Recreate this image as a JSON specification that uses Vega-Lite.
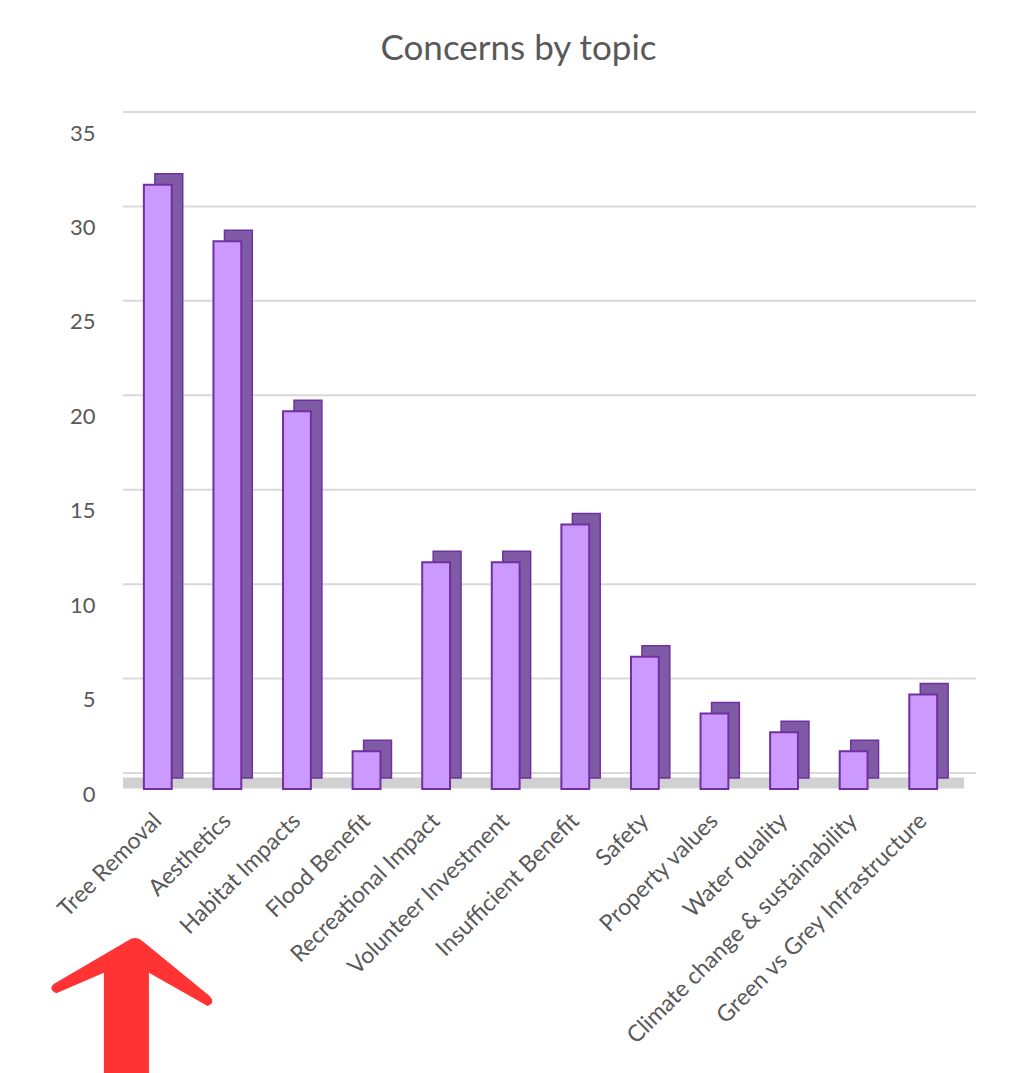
{
  "$schema": "https://vega.github.io/schema/vega-lite/v6.json",
  "width": 835,
  "height": 661,
  "autosize": {"type": "none"},
  "padding": {"left": 123, "top": 128, "right": 65, "bottom": 284},
  "background": "white",
  "title": {"text": "Concerns by topic", "font": "Lato", "fontSize": 35, "fontWeight": "normal", "color": "#595959", "anchor": "middle", "dx": -22, "offset": 44},
  "config": {
    "view": {"stroke": null},
    "axis": {"labelFont": "Lato", "labelColor": "#595959", "labelFontSize": 23, "domain": false, "ticks": false, "grid": false, "title": null}
  },
  "datasets": {
    "topics": [
      {"topic": "Tree Removal", "count": 32},
      {"topic": "Aesthetics", "count": 29},
      {"topic": "Habitat Impacts", "count": 20},
      {"topic": "Flood Benefit", "count": 2},
      {"topic": "Recreational Impact", "count": 12},
      {"topic": "Volunteer Investment", "count": 12},
      {"topic": "Insufficient Benefit", "count": 14},
      {"topic": "Safety", "count": 7},
      {"topic": "Property values", "count": 4},
      {"topic": "Water quality", "count": 3},
      {"topic": "Climate change & sustainability", "count": 2},
      {"topic": "Green vs Grey  Infrastructure", "count": 5}
    ],
    "grid": [{"v": 0}, {"v": 5}, {"v": 10}, {"v": 15}, {"v": 20}, {"v": 25}, {"v": 30}, {"v": 35}]
  },
  "layer": [
    {
      "data": {"name": "grid"},
      "mark": {"type": "rule", "color": "#d9d9d9", "strokeWidth": 2, "xOffset": 18, "yOffset": -16},
      "encoding": {
        "y": {"field": "v", "type": "quantitative", "scale": {"domain": [0, 35], "nice": false}, "axis": {"values": [0, 5, 10, 15, 20, 25, 30, 35], "labelPadding": 28, "labelOffset": 5, "labelFontSize": 22}}
      }
    },
    {
      "data": {"values": [{}]},
      "mark": {"type": "rule", "color": "#8c8c8c", "opacity": 0.4, "strokeWidth": 11, "yOffset": -6, "xOffset": 6},
      "encoding": {
        "y": {"datum": 0, "type": "quantitative"}
      }
    },
    {
      "data": {"name": "topics"},
      "mark": {"type": "bar", "fill": "#7F5BA6", "stroke": "#7030A0", "strokeWidth": 1.5, "xOffset": 11, "yOffset": -11},
      "encoding": {
        "x": {"field": "topic", "type": "nominal", "sort": null, "scale": {"paddingInner": 0.6, "paddingOuter": 0.3}, "axis": {"labelAngle": -45, "labelAlign": "right", "labelBaseline": "middle", "labelPadding": 28, "labelLimit": 0, "labelOverlap": false}},
        "y": {"field": "count", "type": "quantitative"}
      }
    },
    {
      "data": {"name": "topics"},
      "mark": {"type": "bar", "fill": "#CC99FF", "stroke": "#7030A0", "strokeWidth": 2},
      "encoding": {
        "x": {"field": "topic", "type": "nominal", "sort": null},
        "y": {"field": "count", "type": "quantitative"}
      }
    },
    {
      "data": {"values": [{}]},
      "mark": {"type": "point", "filled": true, "color": "#FF3333", "opacity": 1, "size": 28900, "xOffset": -25, "yOffset": 217,
        "shape": "M -0.02 -0.79 Q 0.05 -0.82 0.12 -0.76 L 0.90 -0.12 Q 0.98 -0.04 0.88 0.0 L 0.19 -0.39 L 0.19 0.82 L -0.34 0.82 L -0.34 -0.39 L -0.90 -0.15 Q -1.0 -0.2 -0.93 -0.26 Z"},
      "encoding": {
        "x": {"datum": "Tree Removal", "type": "nominal"},
        "y": {"datum": 0, "type": "quantitative"}
      }
    }
  ]
}
